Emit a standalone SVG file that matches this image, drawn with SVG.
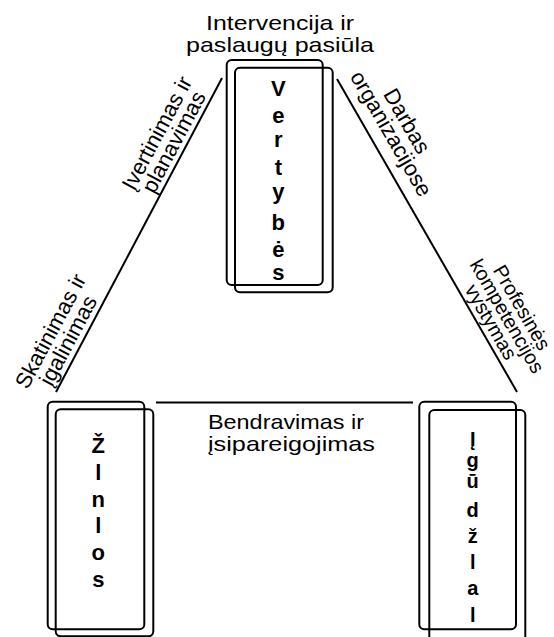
<svg xmlns="http://www.w3.org/2000/svg" width="554" height="637" viewBox="0 0 554 637">
<style>
.box{fill:none;stroke:#000;stroke-width:2}
.conn{stroke:#000;stroke-width:2;fill:none}
.lbl{font-family:"Liberation Sans",Arial,sans-serif;font-size:22px;fill:#000;text-anchor:middle}
.hl{font-family:"Liberation Sans",Arial,sans-serif;font-size:21px;fill:#000}
.ltr{font-family:"Liberation Sans",Arial,sans-serif;font-size:22px;font-weight:bold;fill:#000;text-anchor:middle}
.sm{font-size:20px}
.rl{font-size:20px}
</style>
<rect width="554" height="637" fill="#fff"/>

<g id="connectors">
  <line class="conn" x1="222" y1="78" x2="56" y2="392"/>
  <line class="conn" x1="337" y1="79" x2="517" y2="392"/>
  <line class="conn" x1="156" y1="402.5" x2="413" y2="402.5"/>
  <g transform="translate(163.5,136.6) rotate(-62)">
    <text class="lbl" x="0" y="0">Įvertinimas ir</text>
    <text class="lbl" x="0" y="19">planavimas</text>
  </g>
  <g transform="translate(57.1,334.6) rotate(-62)">
    <text class="lbl" x="0" y="0">Skatinimas ir</text>
    <text class="lbl" x="0" y="20">įgalinimas</text>
  </g>
  <g transform="translate(400.6,124.8) rotate(60)">
    <text class="lbl" x="0" y="0">Darbas</text>
    <text class="lbl" x="3" y="20">organizacijose</text>
  </g>
  <g transform="translate(516,311) rotate(60)">
    <text class="lbl rl" x="0" y="0">Profesinės</text>
    <text class="lbl rl" x="0" y="17">kompetencijos</text>
    <text class="lbl rl" x="-3" y="34">vystymas</text>
  </g>
  <text class="hl" x="208" y="429.3" textLength="156" lengthAdjust="spacingAndGlyphs">Bendravimas ir</text>
  <text class="hl" x="208" y="450.7" textLength="167" lengthAdjust="spacingAndGlyphs">įsipareigojimas</text>
</g>

<g id="top-label">
  <text class="hl" x="280" y="29.5" text-anchor="middle" textLength="148" lengthAdjust="spacingAndGlyphs">Intervencija ir</text>
  <text class="hl" x="280" y="51.5" text-anchor="middle" textLength="188" lengthAdjust="spacingAndGlyphs">paslaugų pasiūla</text>
</g>

<g id="vertybes">
  <rect class="box" x="226.7" y="60" width="96" height="225" rx="5"/>
  <rect class="box" x="235" y="67.7" width="97.7" height="224.6" rx="5"/>
  <text class="ltr" x="278.3" y="95.7">V</text>
  <text class="ltr" x="278.3" y="123.3">e</text>
  <text class="ltr" x="278.3" y="146.7">r</text>
  <text class="ltr" x="278.3" y="175">t</text>
  <text class="ltr" x="278.3" y="199">y</text>
  <text class="ltr" x="278.3" y="230">b</text>
  <text class="ltr" x="278.3" y="256.7">ė</text>
  <text class="ltr" x="278.3" y="280">s</text>
</g>

<g id="zinios">
  <rect class="box" x="47.7" y="401.7" width="96.6" height="227.6" rx="5"/>
  <rect class="box" x="55.7" y="409.3" width="97.6" height="227" rx="5"/>
  <text class="ltr" x="98.3" y="453.3">Ž</text>
  <text class="ltr" x="98.3" y="480">l</text>
  <text class="ltr" x="98.3" y="506.7">n</text>
  <text class="ltr" x="98.3" y="533.3">l</text>
  <text class="ltr" x="98.3" y="560">o</text>
  <text class="ltr" x="98.3" y="586.7">s</text>
</g>

<g id="igudziai">
  <rect class="box" x="419.3" y="401.7" width="96.7" height="227.6" rx="5"/>
  <rect class="box" x="429.3" y="410" width="96" height="240" rx="5"/>
  <text class="ltr sm" x="472.7" y="446">Į</text>
  <text class="ltr sm" x="472.7" y="467">g</text>
  <text class="ltr sm" x="472.7" y="487.5">ū</text>
  <text class="ltr sm" x="472.7" y="516.7">d</text>
  <text class="ltr sm" x="472.7" y="543.3">ž</text>
  <text class="ltr sm" x="472.7" y="569.3">l</text>
  <text class="ltr sm" x="472.7" y="595">a</text>
  <text class="ltr sm" x="472.7" y="621.7">l</text>
</g>
</svg>
